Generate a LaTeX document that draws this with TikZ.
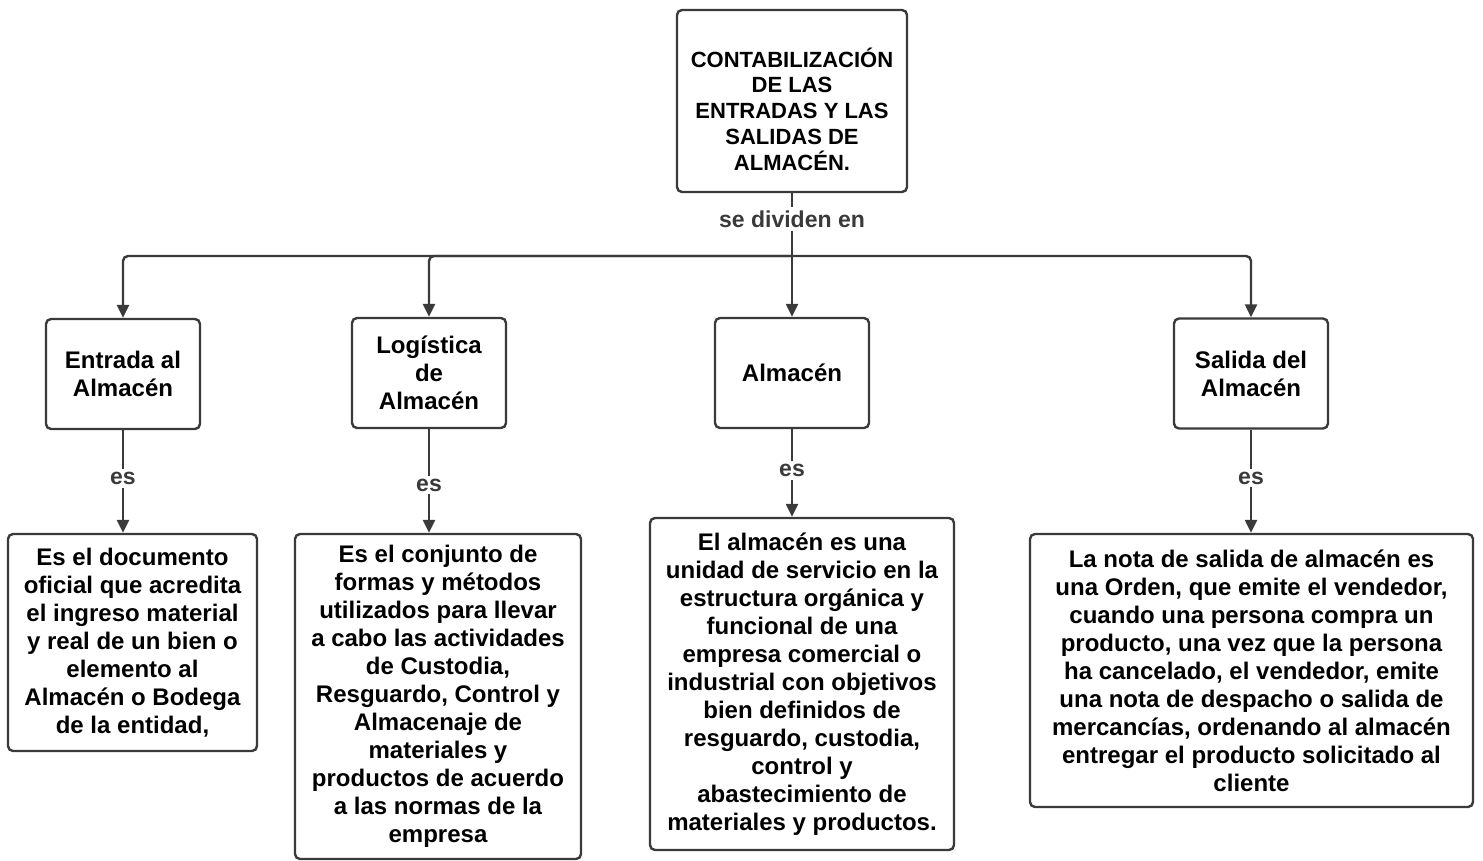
\documentclass[tikz,border=0pt]{standalone}
\usepackage{fontspec}
\setmainfont{Liberation Sans}
\usepackage{tikz}
\usetikzlibrary{arrows.meta,positioning}
\definecolor{linegray}{HTML}{3A3A3A}
\tikzstyle{box}=[draw=linegray,line width=2.4pt,rounded corners=5pt,align=center,inner sep=0pt,text=black,font=\bfseries\fontsize{24}{28}\selectfont]
\tikzstyle{lbl}=[fill=white,text=linegray,inner sep=3pt,font=\bfseries\fontsize{23}{26}\selectfont]
\tikzstyle{conn}=[draw=linegray,line width=2.4pt,-{Triangle[length=13pt,width=12pt]}]
\tikzstyle{plain}=[draw=linegray,line width=2.4pt]

\begin{document}
\begin{tikzpicture}[x=1pt,y=-1pt]
\useasboundingbox (0,0) rectangle (1483,861);
% titulo
\node[box,minimum width=230,minimum height=182] (tit) at (792,101) {};
\node[align=center,inner sep=0pt,font=\bfseries\fontsize{22}{25.7}\selectfont] (tittxt) at (792,109) {CONTABILIZACIÓN\\DE LAS\\ENTRADAS Y LAS\\SALIDAS DE\\ALMACÉN.};
\node[lbl] (div) at (792,219) {se dividen en};
\coordinate (bus) at (792,256);
% segundo nivel
\node[box,minimum width=154,minimum height=110] (ent) at (123,374) {Entrada al\\Almacén};
\node[box,minimum width=154,minimum height=110] (log) at (429,373) {Logística\\de\\Almacén};
\node[box,minimum width=154,minimum height=110] (alm) at (792,373) {Almacén};
\node[box,minimum width=154,minimum height=110] (sal) at (1251,373.5) {Salida del\\Almacén};
% definiciones
\node[box,minimum width=249,minimum height=217] (dent) at (132.5,642.5) {Es el documento\\oficial que acredita\\el ingreso material\\y real de un bien o\\elemento al\\Almacén o Bodega\\de la entidad,};
\node[box,minimum width=286,minimum height=325] (dlog) at (438,696.5) {Es el conjunto de\\formas y métodos\\utilizados para llevar\\a cabo las actividades\\de Custodia,\\Resguardo, Control y\\Almacenaje de\\materiales y\\productos de acuerdo\\a las normas de la\\empresa};
\node[box,minimum width=304,minimum height=332] (dalm) at (802,684) {El almacén es una\\unidad de servicio en la\\estructura orgánica y\\funcional de una\\empresa comercial o\\industrial con objetivos\\bien definidos de\\resguardo, custodia,\\control y\\abastecimiento de\\materiales y productos.};
\node[box,minimum width=443,minimum height=273] (dsal) at (1251.5,670.5) {La nota de salida de almacén es\\una Orden, que emite el vendedor,\\cuando una persona compra un\\producto, una vez que la persona\\ha cancelado, el vendedor, emite\\una nota de despacho o salida de\\mercancías, ordenando al almacén\\entregar el producto solicitado al\\cliente};
% conectores
\draw[plain] (tit.south) -- (div.north);
\draw[plain] (div.south) -- (bus);
\draw[conn,rounded corners=5pt] (bus) -| (ent.north);
\draw[conn,rounded corners=5pt] (bus) -| (log.north);
\draw[conn] (bus) -- (alm.north);
\draw[conn,rounded corners=5pt] (bus) -| (sal.north);
\draw[conn] (ent.south) -- node[lbl,pos=0.47] {es} (ent.south |- dent.north);
\draw[conn] (log.south) -- node[lbl,pos=0.54] {es} (log.south |- dlog.north);
\draw[conn] (alm.south) -- node[lbl,pos=0.47] {es} (alm.south |- dalm.north);
\draw[conn] (sal.south) -- node[lbl,pos=0.47] {es} (sal.south |- dsal.north);
\end{tikzpicture}
\end{document}
